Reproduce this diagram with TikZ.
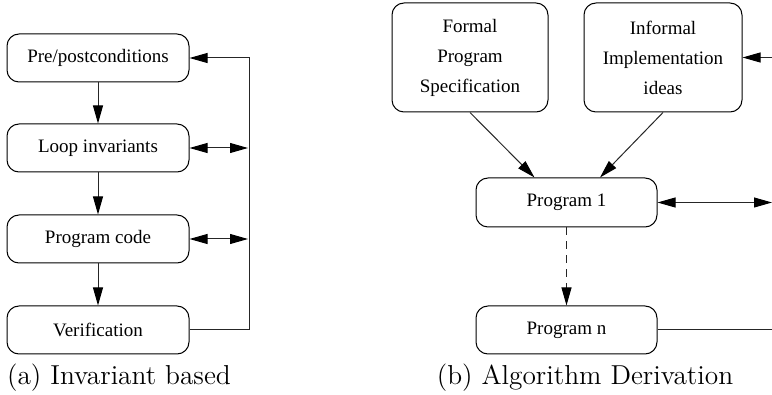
\documentclass[tikz,border=0pt]{standalone}
\usepackage{fontspec}
\newfontfamily\tnr{Liberation Serif}
\usetikzlibrary{arrows.meta,calc}
\begin{document}
\begin{tikzpicture}[x=0.5pt,y=-0.5pt,
  box/.style={draw, rounded corners=6pt, line width=0.5pt, inner sep=0pt, align=center,
              font=\tnr\fontsize{9.5}{15}\selectfont},
  smallbox/.style={box, minimum width=91pt, minimum height=24pt},
  tallbox/.style={box, minimum height=54.5pt},
  conn/.style={line width=0.5pt, draw=black!85},
  tip/.style={-{Triangle[length=9pt,width=5pt,color=black]}},
  dtip/.style={{Triangle[length=9pt,width=5pt,color=black]}-{Triangle[length=9pt,width=5pt,color=black]}},
  captext/.style={font=\fontsize{13.7}{16}\selectfont}]
\useasboundingbox (0,0) rectangle (772,395);
% (a)
\node[smallbox] (pre)  at (98,58)  {Pre/postconditions};
\node[smallbox] (loop) at (98,148) {Loop invariants};
\node[smallbox] (code) at (98,239) {Program code};
\node[smallbox] (ver)  at (98,330) {Verification};
\coordinate (rtop) at (249,58);
\coordinate (rbot) at (249,330);
\coordinate (rloop) at (248,148);
\coordinate (rcode) at (248,239);
\draw[conn,tip] (pre) -- (loop);
\draw[conn,tip] (loop) -- (code);
\draw[conn,tip] (code) -- (ver);
\draw[conn,tip] (ver.east) -- (rbot) -- (rtop) -- (pre.east);
\draw[conn,dtip] (loop.east) -- (rloop);
\draw[conn,dtip] (code.east) -- (rcode);
\node[captext] (capa) at (119,378) {(a) Invariant based};
% (b)
\node[tallbox, minimum width=78pt] (formal) at (470,57.5) {Formal\\Program\\Specification};
\node[tallbox, minimum width=79pt] (informal) at (663,57.5) {Informal\\Implementation\\ideas};
\node[box, minimum width=90.5pt, minimum height=24.5pt] (p1) at (566.5,202.5) {Program 1};
\node[box, minimum width=90.5pt, minimum height=24pt] (pn) at (566.5,330) {Program n};
\coordinate (einf) at (772,57.5);
\coordinate (ep1) at (772,202.5);
\coordinate (epn) at (772,330);
\draw[conn,tip] (formal.south) -- ($(p1.north)+(-32,0)$);
\draw[conn,tip] (informal.south) -- ($(p1.north)+(33.5,0)$);
\draw[conn,tip] (einf) -- (informal.east);
\draw[conn,dtip] (p1.east) -- (ep1);
\draw[conn,tip,dash pattern=on 4pt off 3pt] (p1.south) -- (pn.north);
\draw[conn] (pn.east) -- (epn);
\node[captext] (capb) at (585,378) {(b) Algorithm Derivation};
\end{tikzpicture}
\end{document}
